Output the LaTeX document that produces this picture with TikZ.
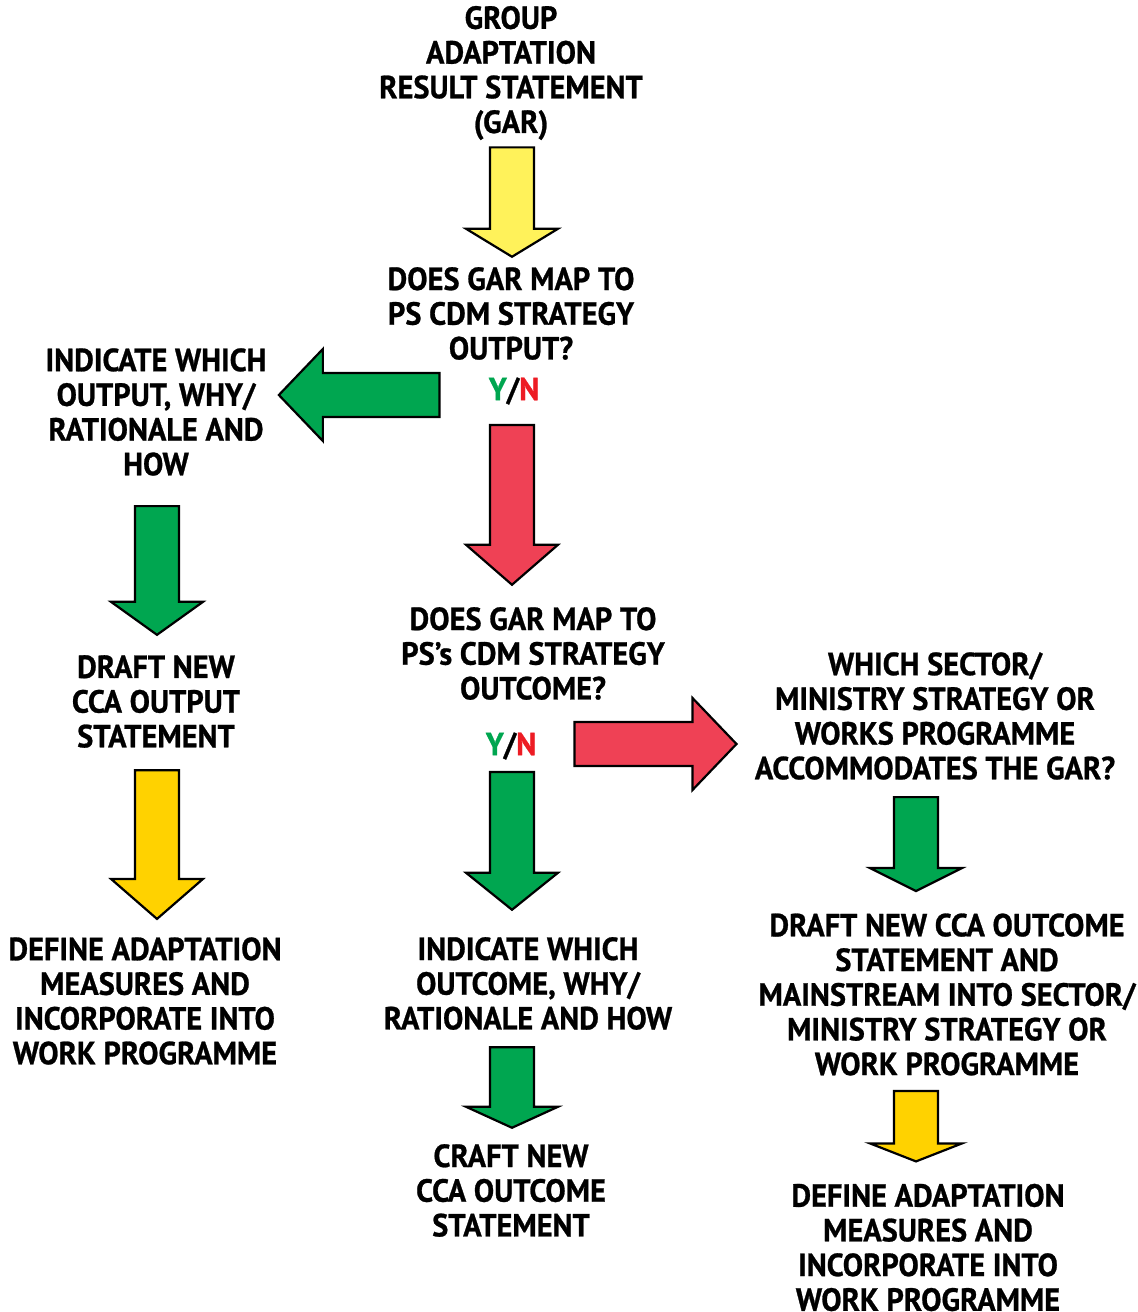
\documentclass[tikz,border=0pt]{standalone}
\usepackage{fontspec}
\setmainfont{PT Sans}[FakeStretch=0.95, FakeBold=0.8]
\usepackage{xcolor}
\usetikzlibrary{positioning, calc}

\definecolor{garyellow}{HTML}{FFF25A}
\definecolor{goldyellow}{HTML}{FFD200}
\definecolor{yesgreen}{HTML}{00A650}
\definecolor{nored}{HTML}{EF4155}
\definecolor{ntext}{HTML}{ED1C24}

% fat arrow: fill colour, tail, tip, head length
\newcommand{\blockarrow}[4]{%
    \path #2 coordinate (tail) #3 coordinate (tip);
    \coordinate (neck) at ($(tip)!#4!(tail)$);
    \draw[fatarrow, fill=#1] ($(tail)!11pt!90:(tip)$) -- ($(neck)!11pt!90:(tip)$)
        -- ($(neck)!23pt!90:(tip)$) -- (tip) -- ($(neck)!23pt!-90:(tip)$)
        -- ($(neck)!11pt!-90:(tip)$) -- ($(tail)!11pt!-90:(tip)$) -- cycle;
}

\begin{document}
\begin{tikzpicture}[
        x=0.5pt, y=-0.5pt,
        txt/.style={align=center, inner sep=0pt, font=\bfseries\fontsize{16}{17.35}\selectfont},
        fatarrow/.style={draw=black, line width=1.1pt, line join=miter}
    ]
    \useasboundingbox (0,0) rectangle (1138,1312);

    % Middle column
    \node[txt] (gar) at (511,73) {GROUP\\ADAPTATION\\RESULT STATEMENT\\(GAR)};
    \node[txt] (q1) at (511,313.5) {DOES GAR MAP TO\\PS CDM STRATEGY\\OUTPUT?};
    \node[txt] (yn1) at (514,391) {\textcolor{yesgreen}{Y}/\textcolor{ntext}{N}};
    \node[txt] (q2) at (533,653.5) {DOES GAR MAP TO\\PS’s CDM STRATEGY\\OUTCOME?};
    \node[txt] (yn2) at (511,746) {\textcolor{yesgreen}{Y}/\textcolor{ntext}{N}};
    \node[txt] (ind2) at (528,983.5) {INDICATE WHICH\\OUTCOME, WHY/\\RATIONALE AND HOW};
    \node[txt] (craft) at (511,1190.5) {CRAFT NEW\\CCA OUTCOME\\STATEMENT};

    % Left column
    \node[txt] (ind1) at (156,412) {INDICATE WHICH\\OUTPUT, WHY/\\RATIONALE AND\\HOW};
    \node[txt] (draft1) at (156,701.5) {DRAFT NEW\\CCA OUTPUT\\STATEMENT};
    \node[txt] (define1) at (145,1001) {DEFINE ADAPTATION\\MEASURES AND\\INCORPORATE INTO\\WORK PROGRAMME};

    % Right column
    \node[txt] (which) at (935,716) {WHICH SECTOR/\\MINISTRY STRATEGY OR\\WORKS PROGRAMME\\ACCOMMODATES THE GAR?};
    \node[txt] (draft2) at (947,994.5) {DRAFT NEW CCA OUTCOME\\STATEMENT AND\\MAINSTREAM INTO SECTOR/\\MINISTRY STRATEGY OR\\WORK PROGRAMME};
    \node[txt] (define2) at (928,1247.5) {DEFINE ADAPTATION\\MEASURES AND\\INCORPORATE INTO\\WORK PROGRAMME};

    % Arrows
    \blockarrow{garyellow}{($(gar.south)+(1,7)$)}{($(q1.north)+(1,-10)$)}{14pt}
    \blockarrow{yesgreen}{($(yn1.west)+(-49,4)$)}{($(ind1.east)+(12,-17)$)}{22pt}
    \blockarrow{nored}{($(yn1.south)+(-2,20)$)}{($(q2.north)+(-21,-22)$)}{20pt}
    \blockarrow{yesgreen}{($(ind1.south)+(1,30)$)}{($(draft1.north)+(1,-20)$)}{16.5pt}
    \blockarrow{goldyellow}{($(draft1.south)+(1,22)$)}{($(define1.north)+(12,-18)$)}{20pt}
    \blockarrow{yesgreen}{($(yn2.south)+(1,12)$)}{($(ind2.north)+(-16,-27)$)}{18.5pt}
    \blockarrow{nored}{($(yn2.east)+(38,-2)$)}{($(which.west)+(-18,28)$)}{22pt}
    \blockarrow{yesgreen}{($(ind2.south)+(-16,17)$)}{($(craft.north)+(1,-16)$)}{10.5pt}
    \blockarrow{yesgreen}{($(which.south)+(-19,17)$)}{($(draft2.north)+(-31,-22)$)}{11.5pt}
    \blockarrow{goldyellow}{($(draft2.south)+(-31,15)$)}{($(define2.north)+(-12,-22)$)}{9pt}

\end{tikzpicture}
\end{document}
